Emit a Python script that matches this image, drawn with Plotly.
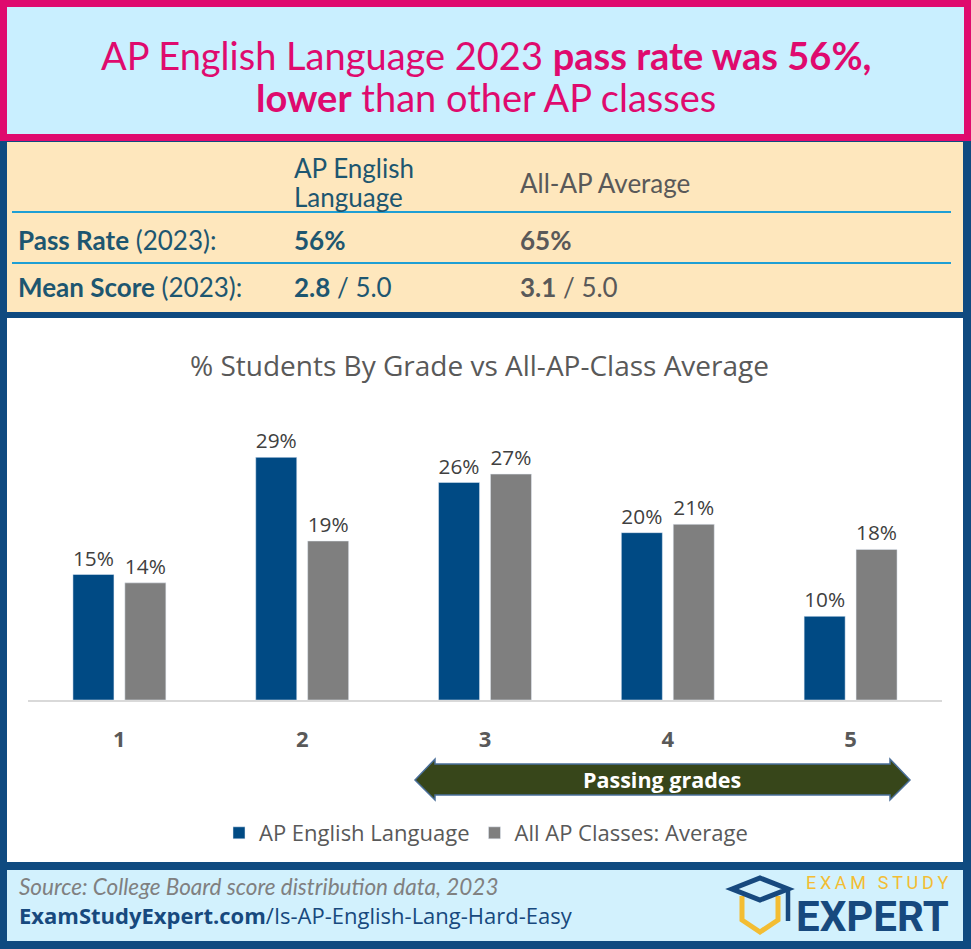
import plotly.graph_objects as go

W, H = 971, 949

# ---- data ----
grades = ["1", "2", "3", "4", "5"]
ap_english = [15, 29, 26, 20, 10]
all_ap = [14, 19, 27, 21, 18]
series_names = ["AP English Language", "All AP Classes: Average"]

title_line1 = "AP English Language 2023 <b>pass rate was 56%,</b>"
title_line2 = "<b>lower</b> than other AP classes"
chart_title = "% Students By Grade vs All-AP-Class Average"
col1_header = ["AP English", "Language"]
col2_header = "All-AP Average"
row_labels = ["<b>Pass Rate</b> (2023):", "<b>Mean Score</b> (2023):"]
pass_rates = ["<b>56%</b>", "<b>65%</b>"]
mean_scores = ["<b>2.8</b> / 5.0", "<b>3.1</b> / 5.0"]
source_text = "<i>Source: College Board score distribution data, 2023</i>"
url_text = "<b>ExamStudyExpert.com</b>/Is-AP-English-Lang-Hard-Easy"
passing_label = "<b>Passing grades</b>"

# ---- colors ----
NAVY = "#0f4a80"
PINK = "#df0a6e"
LIGHTBLUE = "#c9efff"
PEACH = "#fee7bd"
BLUE_BAR = "#004a84"
GRAY_BAR = "#7f7f7f"
TEAL = "#1d5670"
GRAY_TXT = "#595959"

CAL = "Lato, 'Noto Sans', sans-serif"
SEG = "'Open Sans', 'Noto Sans', sans-serif"


def X(px):
    return px / W


def Y(py):
    return 1 - py / H


shapes = []


def rect(x0, y0, x1, y1, fill, line_color=None, lw=0, layer="below"):
    shapes.append(dict(type="rect", xref="paper", yref="paper",
                       x0=X(x0), x1=X(x1), y0=Y(y1), y1=Y(y0),
                       fillcolor=fill, layer=layer,
                       line=dict(color=line_color or fill, width=lw)))


def path(points, fill=None, line_color=None, lw=0, closed=True, layer="below"):
    d = "M " + " L ".join(f"{X(x):.5f},{Y(y):.5f}" for x, y in points)
    if closed:
        d += " Z"
    s = dict(type="path", xref="paper", yref="paper", path=d, layer=layer,
             line=dict(color=line_color or "rgba(0,0,0,0)", width=lw))
    if fill:
        s["fillcolor"] = fill
    shapes.append(s)


def hline(x0, x1, y, color, lw):
    shapes.append(dict(type="line", xref="paper", yref="paper",
                       x0=X(x0), x1=X(x1), y0=Y(y), y1=Y(y), layer="below",
                       line=dict(color=color, width=lw)))


# frame
rect(0, 136, W, H, NAVY)
rect(7, 142, 963, 312, PEACH)
rect(7, 318, 963, 862, "white")
rect(7, 870, 963, 941, "#d2f1fd")
# title box
rect(3.5, 3.5, W - 3.5, 137.5, LIGHTBLUE, PINK, 7)
# table lines
hline(12, 951, 212, "#1f9fd4", 2)
hline(12, 951, 263, "#1f9fd4", 2)

# passing grades arrow
path([(415, 780), (435, 759), (435, 764), (890, 764), (890, 759), (910, 780),
      (890, 800), (890, 795), (435, 795), (435, 800)],
     fill="#37461a", line_color="#4a6f9a", lw=1.5, layer="above")

# logo icon
path([(742, 896), (742, 920), (760, 932), (778, 920), (778, 896)],
     line_color="#f3bd33", lw=5, closed=False, layer="above")
path([(732, 889), (760, 878), (788, 889), (760, 900)],
     line_color="#17497e", lw=5, closed=True, layer="above")
path([(788, 889), (788, 921)], line_color="#17497e", lw=4.5, closed=False, layer="above")

annotations = []


def ann(text, x, y, size, color, family=CAL, xanchor="left", yanchor="middle", align="left",
        weight=None):
    f = dict(size=size, color=color, family=family)
    if weight:
        f["weight"] = weight
    annotations.append(dict(text=text, x=X(x), y=Y(y), xref="paper", yref="paper",
                            xanchor=xanchor, yanchor=yanchor, align=align, showarrow=False,
                            font=f))


ann(title_line1, 486, 55, 38, PINK, CAL, xanchor="center", align="center")
ann(title_line2, 486, 97, 38, PINK, CAL, xanchor="center", align="center")

ann(col1_header[0], 292, 168, 26, TEAL)
ann(col1_header[1], 292, 197, 26, TEAL)
ann(col2_header, 518, 183, 26, GRAY_TXT)
ann(row_labels[0], 16, 240, 26, TEAL)
ann(row_labels[1], 16, 287, 26, TEAL)
ann(pass_rates[0], 292, 240, 26, TEAL)
ann(pass_rates[1], 518, 240, 26, GRAY_TXT)
ann(mean_scores[0], 292, 287, 26, TEAL)
ann(mean_scores[1], 518, 287, 26, GRAY_TXT)

ann(chart_title, 479, 365, 28, GRAY_TXT, SEG, xanchor="center")
ann(passing_label, 662, 779, 21.5, "white", SEG, xanchor="center")

ann(source_text, 17, 886, 22.5, "#808080", CAL)
ann(url_text, 17, 915, 22, "#17497e", SEG)

ann("E\u2009X\u2009A\u2009M\u2009 \u2009S\u2009T\u2009U\u2009D\u2009Y", 950, 882, 18, "#f3bd33",
    "Roboto, sans-serif", xanchor="right")
ann("<b>EXPERT</b>", 951, 916, 42, "#17497e", "Roboto, sans-serif", xanchor="right", weight=900)

fig = go.Figure()
fig.add_trace(go.Bar(x=grades, y=ap_english, name=series_names[0], marker_color=BLUE_BAR,
                     text=[f"{v}%" for v in ap_english], textposition="outside",
                     textfont=dict(family=SEG, size=21, color="#404040"), cliponaxis=False))
fig.add_trace(go.Bar(x=grades, y=all_ap, name=series_names[1], marker_color=GRAY_BAR,
                     text=[f"{v}%" for v in all_ap], textposition="outside",
                     textfont=dict(family=SEG, size=21, color="#404040"), cliponaxis=False))

fig.update_layout(
    width=W, height=H,
    margin=dict(l=0, r=0, t=0, b=0),
    paper_bgcolor="white", plot_bgcolor="rgba(0,0,0,0)",
    barmode="group", bargap=0.432, bargroupgap=0.21,
    shapes=shapes, annotations=annotations,
    showlegend=True,
    legend=dict(orientation="h", x=X(486), y=Y(833), xanchor="center", yanchor="middle",
                font=dict(family=SEG, size=22, color=GRAY_TXT), bgcolor="rgba(0,0,0,0)"),
    xaxis=dict(domain=[X(28), X(942)], showline=True, linecolor="#d9d9d9", linewidth=1.5,
               ticks="", ticklabelstandoff=19,
               tickfont=dict(family=SEG, size=22, color=GRAY_TXT, weight="bold"),
               showgrid=False, zeroline=False, fixedrange=True),
    yaxis=dict(domain=[Y(700), Y(449)], range=[0, 30], visible=False, fixedrange=True),
)

fig.write_html("out.html", config={"displayModeBar": False},
               post_script="document.body.style.margin='0';document.body.style.overflow='hidden';")
